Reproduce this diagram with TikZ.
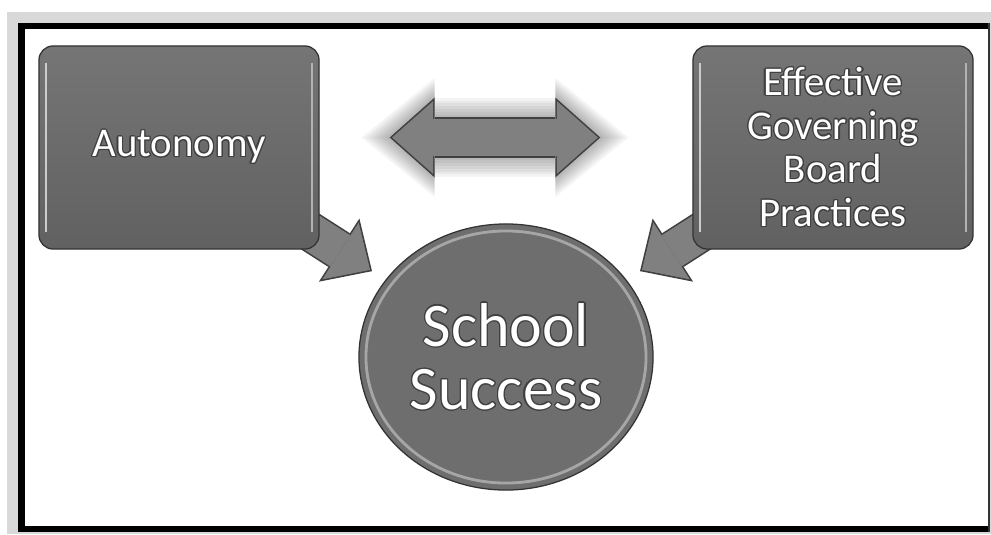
\documentclass[tikz,border=0pt]{standalone}
\usepackage{fontspec}
\setmainfont{Carlito}
\usepackage{contour}
\contourlength{0.8pt}
\usetikzlibrary{arrows.meta, shapes.geometric, backgrounds}

\newcommand{\rimtext}[1]{\contour{black!75}{#1}}

\tikzset{
	box/.style={draw=black!80, line width=0.9pt, rounded corners=10pt,
		top color=black!54, bottom color=black!62,
		minimum width=7cm, minimum height=5.075cm, align=center,
		text=white, font=\fontsize{29}{31}\selectfont,
		path picture={
			\draw[white!80!black, line width=1.6pt] ([xshift=5pt, yshift=-12pt]path picture bounding box.north west) -- ([xshift=5pt, yshift=12pt]path picture bounding box.south west);
			\draw[black!30, line width=1.6pt] ([xshift=-5pt, yshift=-12pt]path picture bounding box.north east) -- ([xshift=-5pt, yshift=12pt]path picture bounding box.south east);
		}},
	hub/.style={ellipse, draw=black!80, line width=0.9pt, fill=black!57,
		minimum width=7.35cm, minimum height=6.65cm, align=center,
		text=white, font=\fontsize{44}{45}\selectfont,
		path picture={
			\draw[white!75!black, line width=2pt, opacity=0.7] (path picture bounding box.center) ellipse [x radius=3.5cm, y radius=3.15cm];
		}},
	rim/.style={draw=black!75, line width=1cm, -{Triangle[length=0.975cm, width=1.875cm, line width=0pt]}, shorten >=0.4cm},
	body/.style={draw=black!50, line width=0.92cm, -{Triangle[length=0.877cm, width=1.686cm, line width=0pt]}, shorten >=0.458cm},
	twinrim/.style={draw=black!75, line width=1cm, {Triangle[length=1.125cm, width=2cm, line width=0pt]}-{Triangle[length=1.125cm, width=2cm, line width=0pt]}, shorten <=1.75cm, shorten >=2.3cm},
	twinbody/.style={draw=black!50, line width=0.92cm, {Triangle[length=1.025cm, width=1.82cm, line width=0pt]}-{Triangle[length=1.025cm, width=1.82cm, line width=0pt]}, shorten <=1.81cm, shorten >=2.36cm},
}

\begin{document}
\begin{tikzpicture}[x=0.025cm, y=-0.025cm]
	\useasboundingbox (0,0) rectangle (991,534);
	\node[box] (auto) at (179,147.5) {\rimtext{Autonomy}};
	\node[box] (board) at (833,147.5) {\rimtext{Effective}\\\rimtext{Governing}\\\rimtext{Board}\\\rimtext{Practices}};
	\node[hub] (succ) at (506,357) {\rimtext{School}\\\rimtext{Success}};
	\begin{scope}[on background layer]
		\fill[black!15] (7,12) rectangle (991,534);
		\fill[white] (21,26) rectangle (988,529);
		\draw[line width=0.15cm] (18.5,26) -- (989,26);
		\draw[line width=0.15cm] (21.5,23) -- (21.5,532);
		\draw[line width=0.15cm] (18.5,529) -- (989,529);
		\draw[line width=0.05cm, black!80] (988.5,23) -- (988.5,532);
		\foreach \d [evaluate=\d as \w using 1+0.14*\d,
				evaluate=\d as \l using 1.125+0.1*\d,
				evaluate=\d as \h using 2+0.14*\d,
				evaluate=\d as \s using 1.75-0.1*\d,
				evaluate=\d as \e using 2.3-0.1*\d] in {1,...,7}
			\draw[black, opacity=0.045, line width=\w cm, {Triangle[length=\l cm, width=\h cm, line width=0pt]}-{Triangle[length=\l cm, width=\h cm, line width=0pt]}, shorten <=\s cm, shorten >=\e cm] ([yshift=0.25cm]auto.east) -- ([yshift=0.25cm]board.west);
		\draw[twinrim] ([yshift=0.25cm]auto.east) -- ([yshift=0.25cm]board.west);
		\draw[twinbody] ([yshift=0.25cm]auto.east) -- ([yshift=0.25cm]board.west);
		\draw[rim] (auto.center) -- (succ);
		\draw[body] (auto.center) -- (succ);
		\draw[rim] (board.center) -- (succ);
		\draw[body] (board.center) -- (succ);
	\end{scope}
\end{tikzpicture}
\end{document}
